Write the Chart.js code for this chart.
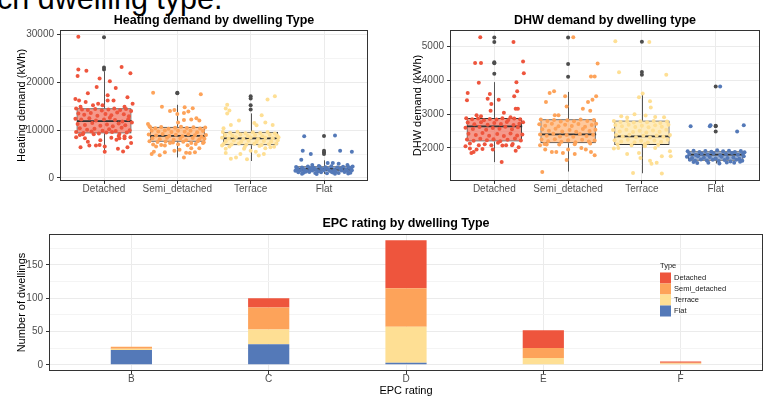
<!DOCTYPE html>
<html>
<head>
<meta charset="utf-8">
<script src="https://cdn.jsdelivr.net/npm/chart.js@4.4.1/dist/chart.umd.min.js"></script>
<style>
  html, body { margin: 0; padding: 0; background: #fff; }
  body { width: 765px; height: 396px; position: relative; overflow: hidden; font-family: 'Liberation Sans', Arial, sans-serif; }
  #heading { position: absolute; left: -3px; top: -17px; font-size: 30.5px; line-height: 1; white-space: nowrap; color: #000; }
  .panel { position: absolute; }
</style>
</head>
<body>
<div id="heading">ch dwelling type.</div>
<div class="panel" style="left:0;top:0;width:380px;height:200px"><canvas id="heat"></canvas></div>
<div class="panel" style="left:380px;top:0;width:385px;height:200px"><canvas id="dhw"></canvas></div>
<div class="panel" style="left:0;top:200px;width:765px;height:196px"><canvas id="epc"></canvas></div>
<script>
Chart.defaults.font.family = "'Liberation Sans', Arial, sans-serif";
Chart.defaults.color = '#4D4D4D';
Chart.defaults.animation = false;
Chart.defaults.plugins.legend.display = false;
Chart.defaults.plugins.tooltip.enabled = false;

const types = ['Detached', 'Semi_detached', 'Terrace', 'Flat'];
const epcRatings = ['B', 'C', 'D', 'E', 'F'];

// heating demand (kWh), box stats per dwelling type
const heatLow = [5500, 4300, 3550, 850];
const heatQ1 = [9300, 7550, 6850, 1400];
const heatMedian = [11900, 8800, 8300, 1900];
const heatQ3 = [14600, 10700, 9650, 2450];
const heatHigh = [22300, 15300, 13500, 3700];
const heatOutliers = [[22700, 23100, 29400], [17700, 17800], [14300, 15200, 16600, 17100], [5000, 5400, 5700, 8800]];
const heatMajor = [0, 10000, 20000, 30000];
const heatMinor = [5000, 15000, 25000];

// jittered points: [offset from category, kWh]
const heatDetached = [
  [-0.35,29500],[-0.35,22700],[-0.24,22400],[-0.36,21300],[0.24,23200],[0.36,21900],[-0.06,20800],[0.08,20200],
  [-0.10,19000],[0.16,18800],[-0.22,17700],[0.05,17300],[0.32,16900],[-0.39,16500],[-0.34,16200],[-0.25,15900],
  [0.05,16200],[0.13,16200],[0.39,15500],[-0.08,15500],[-0.15,15200],[-0.32,14900],[-0.02,15200],[0.28,14900],
  [-0.38,14500],[-0.30,14300],[-0.22,14200],[-0.12,14400],[-0.03,14100],[0.06,14300],[0.14,14500],[0.22,14200],[0.30,14400],[0.37,14000],
  [-0.35,13500],[-0.27,13200],[-0.18,13600],[-0.09,13000],[0.02,13400],[0.10,13100],[0.18,13700],[0.27,13300],[0.34,12900],
  [-0.39,12400],[-0.31,12200],[-0.20,12500],[-0.11,12000],[0.00,12200],[0.08,12600],[0.15,12100],[0.25,11800],[0.33,12300],
  [-0.36,11300],[-0.26,11100],[-0.16,11500],[-0.05,10900],[0.04,11200],[0.12,10800],[0.20,11400],[0.29,11000],[0.38,11600],
  [-0.33,10400],[-0.23,10100],[-0.13,10300],[-0.02,9900],[0.07,10200],[0.16,9800],[0.24,10500],[0.35,10000],
  [-0.38,9600],[-0.28,9400],[-0.17,9700],[-0.07,9300],[0.03,9500],[0.11,9600],[0.21,9200],[0.31,9500],
  [-0.33,9000],[-0.29,9150],[-0.14,9150],[0.20,8800],[0.28,8700],[-0.38,8500],[0.10,8400],[0.36,8500],
  [-0.26,8300],[0.21,8300],[0.28,8300],[-0.22,7600],[-0.05,7900],[0.17,8000],[0.37,7300],
  [-0.20,6800],[-0.11,6800],[-0.06,6900],[0.01,6600],[0.32,6450],
  [-0.32,6450],[0.19,6100],[0.26,5550],[0.01,5500]
];
const heatSemi = [
  [-0.33,17800],[0.32,17500],[-0.21,14900],[0.10,14800],[0.21,14600],[-0.04,14200],[-0.10,14000],[0.09,13600],
  [0.15,13900],[0.00,13400],[0.26,12500],[0.19,12200],[0.09,12100],[0.01,11600],[0.30,12000],[-0.40,11300],[-0.38,10800],
  [-0.37,10600],[-0.30,10400],[-0.22,10650],[-0.12,10300],[-0.03,10500],[0.05,10700],[0.13,10450],[0.22,10600],[0.31,10350],[0.38,10550],
  [-0.35,9900],[-0.26,9700],[-0.17,9950],[-0.08,9600],[0.01,9850],[0.10,9650],[0.18,9900],[0.27,9550],[0.35,9800],
  [-0.39,9100],[-0.29,8900],[-0.20,9200],[-0.11,8800],[-0.02,9050],[0.07,8700],[0.15,9150],[0.24,8950],[0.33,8600],[0.39,9000],
  [-0.34,8300],[-0.24,8100],[-0.14,8400],[-0.05,8000],[0.04,8250],[0.12,7900],[0.21,8350],[0.30,8050],[0.37,8200],
  [-0.38,7700],[-0.27,7500],[-0.16,7650],[-0.06,7400],[0.08,7550],[0.19,7300],[0.28,7700],[0.36,7450],
  [-0.33,7000],[-0.22,6900],[0.01,7050],[0.14,6850],[0.25,7100],
  [-0.35,5000],[-0.24,4760],[-0.32,5500],[-0.29,6600],[-0.17,6800],[-0.10,7300],[0.09,4300],[0.12,5300],
  [0.17,5200],[0.24,5400],[0.30,6200],[0.35,7300],[-0.17,5400],[-0.04,5700],[0.03,5900],[0.19,6200]
];
const heatTerrace = [
  [0.33,17100],[0.23,16400],[-0.32,15300],[-0.34,14500],[-0.29,14100],[-0.32,13500],[0.15,13100],[-0.16,12000],
  [0.05,11500],[0.08,11000],[-0.37,10400],[-0.27,11100],[0.20,11600],[0.30,11100],
  [-0.38,9600],[-0.28,9450],[-0.18,9650],[-0.07,9350],[0.03,9550],[0.13,9400],[0.23,9600],[0.33,9300],
  [-0.35,9000],[-0.25,8850],[-0.14,9100],[-0.04,8800],[0.06,9000],[0.16,8750],[0.26,9050],[0.36,8900],
  [-0.39,8400],[-0.30,8250],[-0.20,8500],[-0.10,8200],[0.00,8450],[0.10,8150],[0.20,8400],[0.30,8300],[0.38,8500],
  [-0.34,7700],[-0.23,7850],[-0.13,7600],[-0.03,7800],[0.08,7550],[0.18,7750],[0.28,7650],[0.37,7900],
  [-0.37,7100],[-0.26,7000],[-0.16,7200],[-0.06,6950],[0.05,7150],[0.15,6900],[0.25,7050],[0.35,7200],
  [-0.29,6600],[-0.08,6500],[0.12,6700],[0.32,6550],
  [-0.34,6100],[-0.34,5200],[-0.27,4000],[-0.20,4300],[-0.14,5000],[-0.05,3900],[0.00,5700],[0.07,5500],
  [0.18,5000],[0.20,6200],[0.27,6400],[0.11,4700],[-0.39,6800],[-0.09,6100]
];
const heatFlat = [
  [-0.27,8750],[0.15,8900],[-0.29,5700],[-0.18,5000],[0.22,5700],[0.38,5500],[-0.31,3800],[0.05,3150],
  [0.12,3150],[0.20,3000],[0.32,2700],[-0.07,2500],[-0.16,2700],
  [-0.38,2300],[-0.30,2200],[-0.22,2400],[-0.14,2150],[-0.06,2350],[0.02,2250],[0.10,2450],[0.18,2200],[0.26,2350],[0.34,2250],[0.39,2400],
  [-0.36,1900],[-0.27,1800],[-0.19,1950],[-0.11,1750],[-0.03,1900],[0.06,1850],[0.14,1700],[0.22,1950],[0.30,1800],[0.37,1900],
  [-0.39,1500],[-0.32,1600],[-0.24,1450],[-0.16,1550],[-0.08,1400],[0.00,1600],[0.08,1500],[0.16,1350],[0.24,1550],[0.32,1450],[0.38,1600],
  [-0.35,1200],[-0.28,1100],[-0.20,1250],[-0.12,1050],[-0.04,1200],[0.04,1000],[0.12,1150],[0.20,1050],[0.28,1250],[0.36,1100],
  [-0.30,900],[-0.10,850],[0.15,900],[0.33,950],[-0.37,2050],[-0.17,2050],[0.03,2100],[0.23,2000],
  [-0.25,1300],[0.10,1300],[0.30,1650]
];

// DHW demand (kWh), box stats per dwelling type
const dhwLow = [1580, 1300, 1250, 1540];
const dhwQ1 = [2190, 2140, 2090, 1620];
const dhwMedian = [2640, 2400, 2340, 1800];
const dhwQ3 = [2890, 2850, 2810, 1900];
const dhwHigh = [3950, 3660, 3600, 1940];
const dhwOutliers = [[4200, 4510, 4540, 5140, 5270], [4110, 4490, 5270], [4170, 4250, 5150], [2490, 2640, 2660, 3820]];
const dhwMajor = [2000, 3000, 4000, 5000];
const dhwMinor = [1500, 2500, 3500, 4500];

const dhwDetached = [
  [-0.19,5280],[0.26,5140],[-0.26,4520],[-0.18,4520],[0.39,4560],[0.40,4210],[-0.21,3930],[0.30,3950],
  [0.31,3680],[-0.36,3630],[-0.06,3600],[-0.37,3410],[0.06,3430],[-0.09,3460],[0.27,3530],[-0.04,3300],
  [0.29,3160],[0.32,3160],[-0.05,3100],[0.13,3040],[-0.24,2970],[-0.18,2940],[0.22,2910],
  [-0.38,2880],[-0.30,2850],[-0.22,2870],[-0.14,2820],[-0.06,2860],[0.03,2840],[0.11,2880],[0.19,2830],[0.27,2870],[0.35,2850],
  [-0.36,2750],[-0.27,2700],[-0.18,2760],[-0.09,2690],[0.00,2740],[0.09,2710],[0.17,2770],[0.26,2680],[0.34,2720],[0.39,2760],
  [-0.39,2600],[-0.29,2560],[-0.20,2620],[-0.11,2540],[-0.02,2590],[0.07,2570],[0.15,2630],[0.24,2550],[0.32,2610],
  [-0.35,2420],[-0.25,2380],[-0.16,2440],[-0.07,2360],[0.04,2410],[0.13,2350],[0.22,2430],[0.31,2370],[0.38,2400],
  [-0.37,2250],[-0.28,2210],[-0.19,2270],[-0.10,2230],[-0.01,2260],[0.08,2200],[0.18,2240],[0.28,2280],[0.36,2220],
  [-0.33,2130],[-0.13,2110],[0.05,2150],[0.25,2120],
  [-0.39,2050],[-0.33,1980],[-0.28,1880],[-0.31,1850],[-0.24,1950],[-0.16,1970],[-0.02,1950],[0.11,2070],
  [0.16,2080],[0.24,2080],[0.33,2020],[-0.04,2080],[0.10,1580],[-0.21,2080],[0.29,1920]
];
const dhwSemi = [
  [0.07,5280],[0.40,4500],[0.31,4120],[0.36,4120],[-0.25,3630],[-0.19,3680],[-0.30,3360],[-0.04,3530],
  [0.27,3360],[0.33,3430],[0.38,3530],[-0.02,3230],[0.20,3160],[0.30,3100],[-0.18,2970],[-0.13,2970],[-0.35,1290],
  [-0.37,2840],[-0.28,2800],[-0.19,2830],[-0.10,2780],[-0.01,2820],[0.08,2790],[0.17,2840],[0.26,2800],[0.35,2830],
  [-0.39,2700],[-0.31,2660],[-0.22,2720],[-0.13,2640],[-0.04,2690],[0.05,2650],[0.14,2710],[0.23,2630],[0.32,2680],[0.38,2720],
  [-0.35,2550],[-0.26,2510],[-0.17,2570],[-0.08,2490],[0.02,2530],[0.11,2480],[0.20,2560],[0.29,2500],[0.37,2540],
  [-0.38,2400],[-0.29,2360],[-0.20,2420],[-0.11,2340],[-0.02,2380],[0.07,2330],[0.16,2410],[0.25,2350],[0.34,2390],
  [-0.36,2250],[-0.27,2200],[-0.18,2260],[-0.09,2180],[0.00,2230],[0.10,2170],[0.19,2240],[0.28,2190],[0.36,2220],
  [-0.32,2120],[-0.12,2100],[0.09,2110],[0.30,2130],
  [-0.38,2080],[-0.31,1950],[-0.22,1880],[-0.16,1880],[-0.07,1850],[0.00,1950],[0.09,1820],[0.18,2000],
  [0.24,1950],[0.31,1880],[0.36,1780],[-0.29,2100],[-0.02,1640]
];
const dhwTerrace = [
  [-0.36,5160],[0.10,5140],[-0.31,4240],[0.33,4170],[0.01,3610],[-0.04,3500],[0.11,3380],[0.12,3200],
  [-0.20,2900],[-0.28,2940],[0.18,2920],[0.05,2960],[-0.10,3000],[0.30,2910],
  [-0.38,2800],[-0.29,2770],[-0.20,2800],[-0.11,2750],[-0.02,2790],[0.07,2760],[0.16,2800],[0.25,2740],[0.34,2780],
  [-0.36,2680],[-0.27,2640],[-0.18,2690],[-0.09,2620],[0.00,2660],[0.09,2610],[0.18,2670],[0.27,2630],[0.36,2690],
  [-0.39,2530],[-0.30,2490],[-0.21,2540],[-0.12,2470],[-0.03,2510],[0.06,2460],[0.15,2520],[0.24,2480],[0.33,2540],
  [-0.35,2380],[-0.26,2340],[-0.17,2390],[-0.08,2320],[0.02,2360],[0.11,2310],[0.20,2370],[0.29,2330],[0.38,2380],
  [-0.37,2230],[-0.28,2190],[-0.19,2240],[-0.10,2170],[-0.01,2210],[0.08,2160],[0.17,2220],[0.26,2180],[0.35,2240],
  [-0.33,2100],[-0.14,2080],[0.04,2110],[0.22,2090],
  [-0.38,1980],[-0.32,2000],[-0.20,1820],[-0.04,1850],[-0.02,1700],[0.11,1620],[0.13,1530],[0.20,1560],
  [0.27,1750],[0.38,1900],[0.39,1750],[-0.12,1260],[0.27,1240],[0.18,2000],[0.04,2050]
];
const dhwFlat = [
  [0.06,3820],[-0.34,2640],[-0.08,2640],[-0.07,2670],[0.29,2490],[0.38,2670],
  [-0.38,1900],[-0.30,1920],[-0.22,1880],[-0.14,1910],[-0.06,1890],[0.02,1930],[0.10,1900],[0.18,1920],[0.26,1880],[0.34,1910],[0.39,1870],
  [-0.36,1820],[-0.27,1790],[-0.19,1830],[-0.11,1800],[-0.03,1840],[0.06,1780],[0.14,1820],[0.22,1850],[0.30,1800],[0.37,1830],
  [-0.39,1740],[-0.32,1700],[-0.24,1750],[-0.16,1710],[-0.08,1730],[0.00,1690],[0.08,1740],[0.16,1700],[0.24,1720],[0.32,1680],[0.38,1750],
  [-0.35,1650],[-0.28,1620],[-0.20,1660],[-0.12,1630],[-0.04,1650],[0.04,1610],[0.12,1640],[0.20,1600],[0.28,1650],[0.36,1620],
  [-0.30,1580],[-0.10,1560],[0.15,1570],[0.33,1590],[-0.25,1550],[0.05,1540],[0.25,1560]
];

// number of dwellings per EPC rating
const epcFlat = [22, 31, 3, 0, 0];
const epcTerrace = [2, 22, 54, 10, 2];
const epcSemi = [3, 33, 58, 15, 1];
const epcDetached = [0, 14, 72, 27, 2];
const epcMajor = [0, 50, 100, 150];
const epcMinor = [25, 75, 125, 175];

const typeColors = ['#EE553D', '#FDA35A', '#FEDF94', '#5479B8'];
const boxFills = ['rgba(238,85,61,0.6)', 'rgba(253,163,90,0.6)', 'rgba(254,223,148,0.6)', 'rgba(84,121,184,0.6)'];

const panelTitle = {
  id: 'panelTitle',
  afterDraw(chart, args, opts) {
    const { ctx, chartArea: a } = chart;
    ctx.save();
    ctx.strokeStyle = '#333';
    ctx.lineWidth = 1;
    ctx.strokeRect(a.left + 0.5, a.top + 0.5, a.right - a.left - 1, a.bottom - a.top - 1);
    ctx.font = "bold 12.5px 'Liberation Sans', Arial, sans-serif";
    ctx.fillStyle = '#000';
    ctx.textAlign = 'center';
    ctx.textBaseline = 'middle';
    ctx.fillText(opts.text, (a.left + a.right) / 2, opts.y);
    ctx.restore();
  }
};

// median line and whiskers, drawn right after the box bodies
const boxLines = {
  id: 'boxLines',
  afterDatasetDraw(chart, args, opts) {
    if (!opts.median || args.index !== 0) return;
    const { ctx, scales: { x, y } } = chart;
    const half = x.getPixelForValue(0.375) - x.getPixelForValue(0);
    ctx.save();
    opts.median.forEach((m, i) => {
      const cx = Math.round(x.getPixelForValue(i)) + 0.5;
      ctx.strokeStyle = '#555';
      ctx.lineWidth = 1;
      ctx.beginPath();
      ctx.moveTo(cx, y.getPixelForValue(opts.q3[i]));
      ctx.lineTo(cx, y.getPixelForValue(opts.high[i]));
      ctx.moveTo(cx, y.getPixelForValue(opts.q1[i]));
      ctx.lineTo(cx, y.getPixelForValue(opts.low[i]));
      ctx.stroke();
      ctx.strokeStyle = '#333';
      ctx.lineWidth = 1.8;
      ctx.beginPath();
      ctx.moveTo(cx - half, y.getPixelForValue(m));
      ctx.lineTo(cx + half, y.getPixelForValue(m));
      ctx.stroke();
    });
    ctx.restore();
  }
};

const epcLegend = {
  id: 'epcLegend',
  afterDraw(chart, args, opts) {
    const { ctx } = chart;
    ctx.save();
    ctx.font = "7.5px 'Liberation Sans', Arial, sans-serif";
    ctx.fillStyle = '#222';
    ctx.textBaseline = 'middle';
    ctx.fillText('Type', opts.x, opts.y);
    const sets = chart.data.datasets.slice().reverse();
    sets.forEach((ds, i) => {
      const top = opts.y + 6.5 + i * 11;
      ctx.fillStyle = ds.backgroundColor;
      ctx.fillRect(opts.x, top, 11, 11);
      ctx.fillStyle = '#222';
      ctx.fillText(ds.label, opts.x + 14, top + 5.5);
    });
    ctx.restore();
  }
};

function valueAxis(min, max, major, minor, title, titleLeft, width) {
  return {
    type: 'linear', min: min, max: max,
    afterBuildTicks: s => { s.ticks = major.concat(minor).sort((a, b) => a - b).map(v => ({ value: v })); },
    afterFit: s => { s.width = width; },
    border: { display: false },
    grid: {
      color: c => major.includes(c.tick.value) ? '#EBEBEB' : '#F4F4F4',
      tickColor: c => major.includes(c.tick.value) ? '#333' : 'rgba(0,0,0,0)',
      tickLength: 3
    },
    ticks: {
      autoSkip: false, padding: 3, color: '#4D4D4D', font: { size: 10 },
      callback: v => major.includes(v) ? String(v) : ''
    },
    title: { display: true, text: title, color: '#000', font: { size: 11 }, padding: { top: titleLeft, bottom: 0 } }
  };
}

function categoryAxis(labels, height, title) {
  return {
    type: 'linear', min: -0.6, max: labels.length - 0.4, offset: false,
    afterBuildTicks: s => { s.ticks = labels.map((t, i) => ({ value: i })); },
    afterFit: s => { s.height = height; },
    border: { display: false },
    grid: { offset: false, color: '#EBEBEB', tickColor: '#333', tickLength: 3 },
    ticks: {
      autoSkip: false, maxRotation: 0, padding: 0, color: '#4D4D4D', font: { size: 10, lineHeight: 1 },
      callback: v => labels[v]
    },
    title: title
      ? { display: true, text: title, color: '#000', font: { size: 11 }, padding: { top: 0, bottom: -2 } }
      : { display: false }
  };
}

function boxChart(id, s) {
  const datasets = [{
    type: 'bar',
    data: types.map((t, i) => ({ x: i, y: [s.q1[i], s.q3[i]] })),
    backgroundColor: boxFills, borderColor: '#333', borderWidth: 1, borderSkipped: false,
    barPercentage: 0.75, categoryPercentage: 1, order: 3
  }, {
    type: 'scatter',
    data: s.outliers.flatMap((vals, i) => vals.map(v => ({ x: i, y: v }))),
    pointBackgroundColor: '#4D4D4D', backgroundColor: '#4D4D4D',
    pointRadius: 2, pointBorderWidth: 0, pointHoverRadius: 2, showLine: false, order: 2
  }];
  s.points.forEach((pts, i) => datasets.push({
    type: 'scatter',
    data: pts.map(p => ({ x: i + p[0], y: p[1] })),
    pointBackgroundColor: typeColors[i], backgroundColor: typeColors[i],
    pointRadius: 2, pointBorderWidth: 0, pointHoverRadius: 2, showLine: false, order: 1
  }));
  return new Chart(document.getElementById(id), {
    type: 'scatter',
    data: { datasets: datasets },
    options: {
      responsive: true, maintainAspectRatio: false,
      layout: { padding: s.padding },
      scales: {
        x: categoryAxis(types, 15, null),
        y: valueAxis(s.min, s.max, s.major, s.minor, s.yTitle, s.titleLeft, s.axisWidth)
      },
      plugins: {
        panelTitle: { text: s.title, y: 20.5 },
        boxLines: { q1: s.q1, median: s.median, q3: s.q3, low: s.low, high: s.high }
      }
    },
    plugins: [boxLines, panelTitle]
  });
}

boxChart('heat', {
  q1: heatQ1, median: heatMedian, q3: heatQ3, low: heatLow, high: heatHigh, outliers: heatOutliers,
  points: [heatDetached, heatSemi, heatTerrace, heatFlat],
  min: -630, max: 30935, major: heatMajor, minor: heatMinor,
  title: 'Heating demand by dwelling Type', yTitle: 'Heating demand (kWh)',
  titleLeft: 15, axisWidth: 60,
  padding: { top: 30, right: 12, bottom: 4, left: 0 }
});

boxChart('dhw', {
  q1: dhwQ1, median: dhwMedian, q3: dhwQ3, low: dhwLow, high: dhwHigh, outliers: dhwOutliers,
  points: [dhwDetached, dhwSemi, dhwTerrace, dhwFlat],
  min: 1020, max: 5495, major: dhwMajor, minor: dhwMinor,
  title: 'DHW demand by dwelling type', yTitle: 'DHW demand (kWh)',
  titleLeft: 31, axisWidth: 70,
  padding: { top: 30, right: 5, bottom: 4, left: 0 }
});

const epcSeries = [epcFlat, epcTerrace, epcSemi, epcDetached];
const epcColors = [typeColors[3], typeColors[2], typeColors[1], typeColors[0]];
const epcNames = [types[3], types[2], types[1], types[0]];

new Chart(document.getElementById('epc'), {
  type: 'bar',
  data: {
    datasets: epcSeries.map((vals, k) => ({
      label: epcNames[k],
      data: vals.map((v, i) => ({ x: i, y: v })),
      backgroundColor: epcColors[k],
      borderWidth: 0,
      barPercentage: 0.3, categoryPercentage: 1
    }))
  },
  options: {
    responsive: true, maintainAspectRatio: false,
    layout: { padding: { top: 34, right: 2, bottom: 0, left: 0 } },
    scales: {
      x: Object.assign(categoryAxis(epcRatings, 25, 'EPC rating'), { stacked: true }),
      y: Object.assign(valueAxis(-9.35, 196.35, epcMajor, epcMinor, 'Number of dwellings', 15, 49), { stacked: true })
    },
    plugins: {
      panelTitle: { text: 'EPC rating by dwelling Type', y: 24 },
      epcLegend: { x: 660, y: 66 }
    }
  },
  plugins: [panelTitle, epcLegend]
});
</script>
</body>
</html>
